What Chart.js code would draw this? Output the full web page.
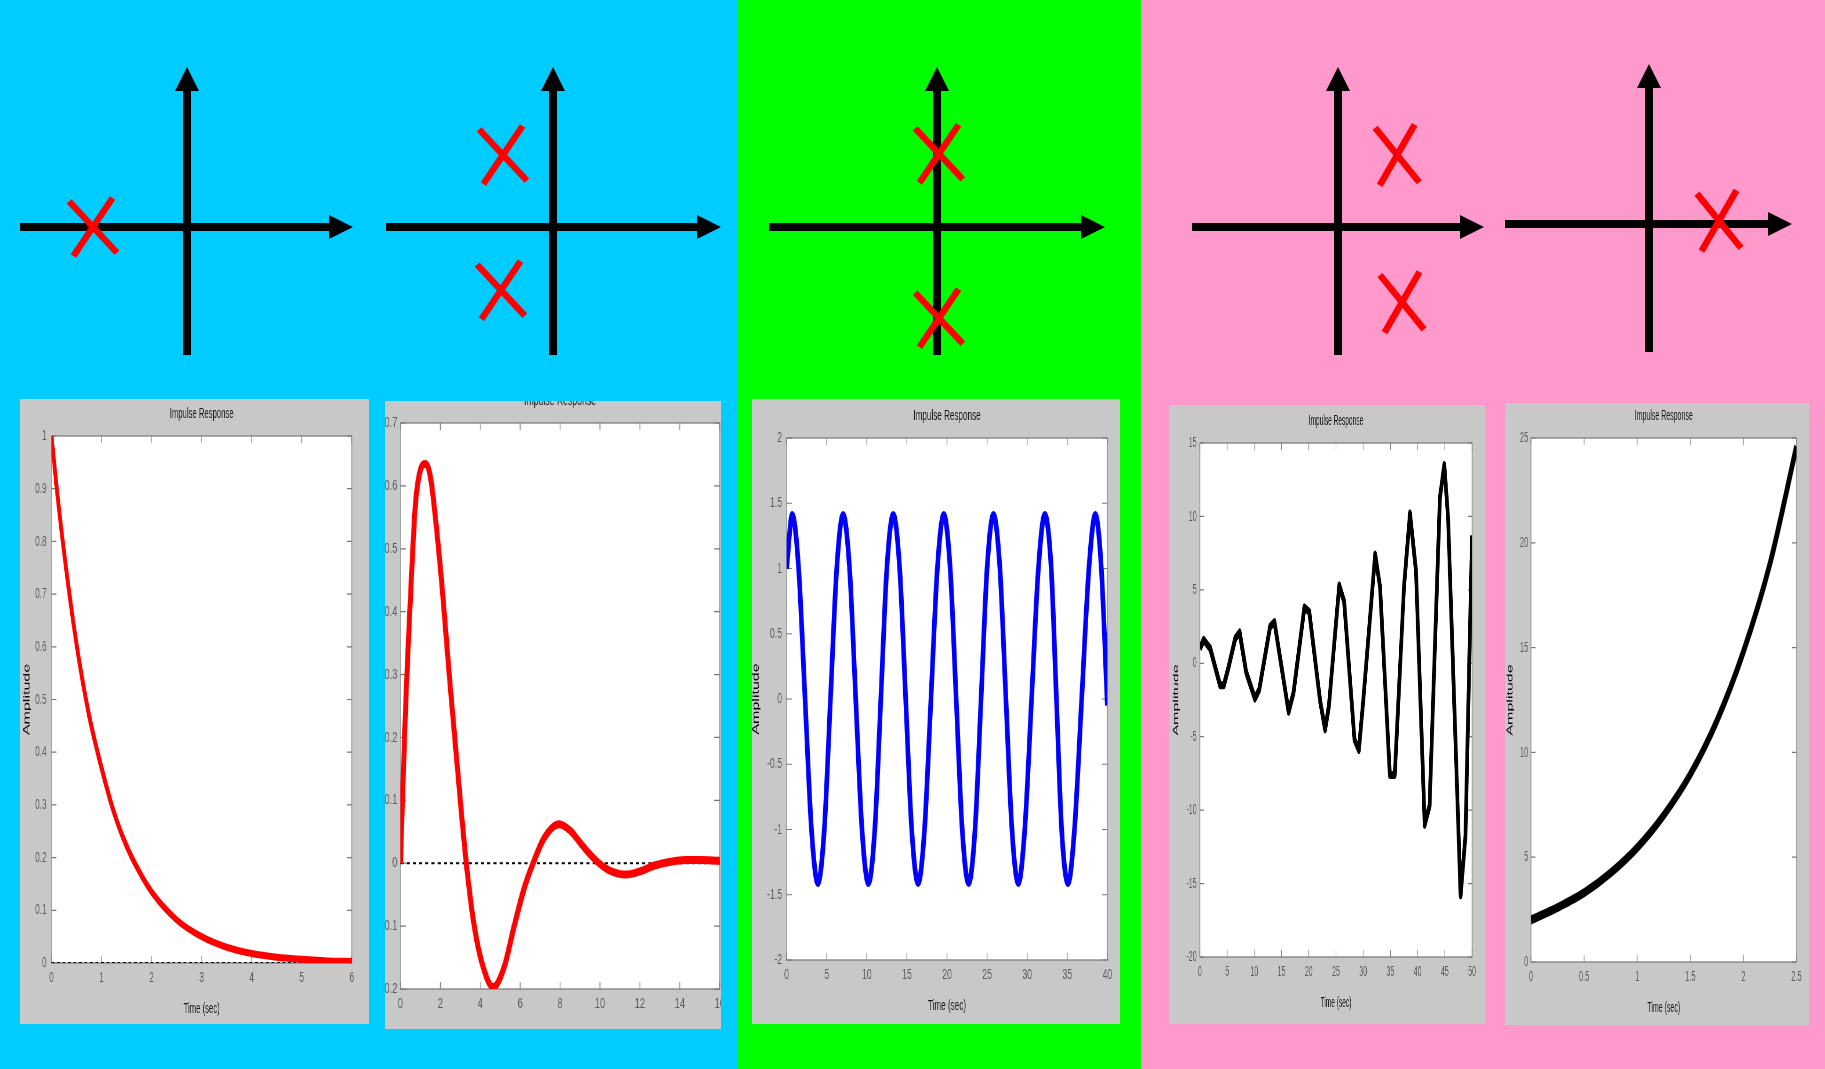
<!DOCTYPE html>
<html>
<head>
<meta charset="utf-8">
<title>Pole locations and impulse responses</title>
<script src="https://cdn.jsdelivr.net/npm/chart.js@4.4.1/dist/chart.umd.min.js"></script>
<style>
  body { margin: 0; }
  #stage { position: relative; width: 1825px; height: 1069px; overflow: hidden; }
  .band, .plane, .frame, .squash { position: absolute; }
  .band { top: 0; height: 1069px; }
  .frame { background: #c8c8c8; overflow: hidden; }
  .squash { transform-origin: 0 0; }
</style>
</head>
<body>
<div id="stage">
  <div class="band" style="left:0;width:737px;background:#00ccff"></div>
  <div class="band" style="left:737px;width:404px;background:#00ff00"></div>
  <div class="band" style="left:1141px;width:684px;background:#ff99cc"></div>
</div>
<script>
// s-plane poles, [real, imag]
const poles1 = [[-2.35, 0]];
const poles2 = [[-1.25, 1.8], [-1.3, -1.58]];
const poles3 = [[0.05, 1.83], [0.05, -2.28]];
const poles4 = [[1.48, 1.8], [1.6, -1.88]];
const poles5 = [[1.75, 0.08]];

// impulse responses (time in sec, amplitude)
const times1 = [0, 0.1, 0.25, 0.5, 0.75, 1, 1.25, 1.5, 1.75, 2, 2.5, 3, 3.5, 4, 4.5, 5, 5.5, 6];
const amp1 = [1.0, 0.905, 0.78, 0.605, 0.47, 0.37, 0.285, 0.222, 0.174, 0.135, 0.082, 0.05, 0.03, 0.018, 0.011, 0.007, 0.004, 0.003];

const times2 = [0, 0.25, 0.5, 0.75, 1, 1.25, 1.5, 2, 2.5, 3, 3.3, 3.7, 4.1, 4.65, 5.2, 5.7, 6.2, 6.65, 7.2, 7.95, 8.5, 9, 9.5, 9.95, 10.5, 11.3, 12, 12.7, 13.5, 14.3, 15, 16];
const amp2 = [0, 0.24, 0.42, 0.57, 0.625, 0.635, 0.615, 0.47, 0.28, 0.1, 0, -0.1, -0.16, -0.197, -0.165, -0.1, -0.04, 0, 0.04, 0.062, 0.052, 0.033, 0.014, 0, -0.012, -0.018, -0.013, -0.004, 0.002, 0.005, 0.005, 0.004];

const times3 = [0, 0.7, 1.5, 2.3, 3.1, 3.9, 4.7, 5.47, 6.25, 7.05, 7.85, 8.62, 9.4, 10.2, 11.0, 11.75, 12.5, 13.3, 14.1, 14.85, 15.6, 16.4, 17.2, 18.0, 18.8, 19.6, 20.4, 21.15, 21.9, 22.7, 23.5, 24.25, 25.0, 25.8, 26.6, 27.35, 28.1, 28.9, 29.7, 30.55, 31.4, 32.2, 33.0, 33.65, 34.3, 35.1, 35.9, 36.8, 37.7, 38.5, 39.25, 40];
const amp3 = [1.0, 1.41, 1.0, 0, -1.0, -1.41, -1.0, 0, 1.0, 1.41, 1.0, 0, -1.0, -1.41, -1.0, 0, 1.0, 1.41, 1.0, 0, -1.0, -1.41, -1.0, 0, 1.0, 1.41, 1.0, 0, -1.0, -1.41, -1.0, 0, 1.0, 1.41, 1.0, 0, -1.0, -1.41, -1.0, 0, 1.0, 1.41, 1.0, 0, -1.0, -1.41, -1.0, 0, 1.0, 1.41, 1.0, -0.05];

const times4 = [0, 0.7, 1.9, 3.7, 4.4, 5.3, 6.5, 7.3, 8.5, 10.1, 10.9, 12.9, 13.7, 14.8, 16.3, 17.2, 19.2, 20.1, 22.1, 23.0, 23.7, 25.6, 26.5, 28.4, 29.2, 30.0, 32.2, 33.1, 34.9, 35.8, 37.5, 38.6, 39.7, 41.3, 42.2, 44.1, 44.9, 45.6, 47.9, 48.8, 50];
const amp4 = [1.0, 1.6, 1.0, -1.5, -1.5, -0.2, 1.7, 2.1, -0.6, -2.4, -1.8, 2.5, 2.8, 0.2, -3.3, -2.0, 3.8, 3.5, -2.6, -4.5, -2.9, 5.3, 4.2, -5.2, -5.9, -2.6, 7.4, 5.2, -7.6, -7.6, 5.2, 10.2, 6.3, -11.0, -9.7, 11.3, 13.5, 9.9, -15.8, -11.7, 8.7];

const times5 = [0, 0.25, 0.5, 0.75, 1, 1.25, 1.5, 1.75, 2, 2.25, 2.5];
const amp5 = [2.0, 2.6, 3.3, 4.25, 5.45, 7.0, 8.95, 11.5, 14.8, 19.0, 24.6];

// tick values
const ticksX1 = [0, 1, 2, 3, 4, 5, 6];
const ticksY1 = [0, 0.1, 0.2, 0.3, 0.4, 0.5, 0.6, 0.7, 0.8, 0.9, 1];
const ticksX2 = [0, 2, 4, 6, 8, 10, 12, 14, 16];
const ticksY2 = [-0.2, -0.1, 0, 0.1, 0.2, 0.3, 0.4, 0.5, 0.6, 0.7];
const ticksX3 = [0, 5, 10, 15, 20, 25, 30, 35, 40];
const ticksY3 = [-2, -1.5, -1, -0.5, 0, 0.5, 1, 1.5, 2];
const ticksX4 = [0, 5, 10, 15, 20, 25, 30, 35, 40, 45, 50];
const ticksY4 = [-20, -15, -10, -5, 0, 5, 10, 15];
const ticksX5 = [0, 0.5, 1, 1.5, 2, 2.5];
const ticksY5 = [0, 5, 10, 15, 20, 25];

const FONT = '"Liberation Sans", Arial, sans-serif';
const stage = document.getElementById('stage');

function box(cls, l, t, w, h, parent) {
  const d = document.createElement('div');
  d.className = cls;
  Object.assign(d.style, { left: l + 'px', top: t + 'px', width: w + 'px', height: h + 'px' });
  (parent || stage).appendChild(d);
  return d;
}

// ---------- pole diagrams ----------
const PAD = 16;

const axisArrows = {
  id: 'axisArrows',
  beforeDatasetsDraw(chart) {
    const { ctx, chartArea: a, scales: { x, y } } = chart;
    const x0 = x.getPixelForValue(0), y0 = y.getPixelForValue(0);
    const head = 24, half = 12;
    ctx.save();
    ctx.strokeStyle = ctx.fillStyle = '#000';
    ctx.lineWidth = 8;
    ctx.beginPath();
    ctx.moveTo(a.left, y0); ctx.lineTo(a.right - head + 1, y0);
    ctx.moveTo(x0, a.bottom); ctx.lineTo(x0, a.top + head - 1);
    ctx.stroke();
    ctx.beginPath();
    ctx.moveTo(a.right, y0); ctx.lineTo(a.right - head, y0 - half); ctx.lineTo(a.right - head, y0 + half); ctx.closePath();
    ctx.moveTo(x0, a.top); ctx.lineTo(x0 - half, a.top + head); ctx.lineTo(x0 + half, a.top + head); ctx.closePath();
    ctx.fill();
    ctx.restore();
  }
};

const planes = [
  { poles: poles1, area: [20, 67, 353, 355], x: [-4.175, 4.15], y: [-3.2, 4.0], rot: [47, 124] },
  { poles: poles2, area: [386, 67, 721, 355], x: [-4.175, 4.2], y: [-3.2, 4.0], rot: [47, 124] },
  { poles: poles3, area: [769, 67, 1105, 355], x: [-4.2, 4.2], y: [-3.2, 4.0], rot: [47, 124] },
  { poles: poles4, area: [1192, 67, 1484, 355], x: [-3.65, 3.65], y: [-3.2, 4.0], rot: [51, 120] },
  { poles: poles5, area: [1505, 64, 1792, 352], x: [-3.6, 3.575], y: [-3.2, 4.0], rot: [51, 120] }
];

planes.forEach(p => {
  const [l, t, r, b] = p.area;
  const holder = box('plane', l - PAD, t - PAD, r - l + 2 * PAD, b - t + 2 * PAD);
  const canvas = document.createElement('canvas');
  canvas.width = r - l + 2 * PAD;
  canvas.height = b - t + 2 * PAD;
  holder.appendChild(canvas);
  new Chart(canvas, {
    type: 'scatter',
    data: {
      datasets: p.rot.map(angle => ({
        data: p.poles.map(([re, im]) => ({ x: re, y: im })),
        pointStyle: 'line',
        pointRotation: angle,
        pointRadius: 35,
        pointBorderWidth: 6.5,
        pointBorderColor: '#ff0000',
        pointBackgroundColor: '#ff0000',
        clip: false
      }))
    },
    options: {
      responsive: false,
      animation: false,
      events: [],
      layout: { padding: PAD, autoPadding: false },
      plugins: { legend: { display: false }, tooltip: { enabled: false } },
      scales: {
        x: { type: 'linear', display: false, min: p.x[0], max: p.x[1] },
        y: { type: 'linear', display: false, min: p.y[0], max: p.y[1] }
      }
    },
    plugins: [axisArrows]
  });
});

// ---------- impulse response figures ----------
const LM = 70, TM = 40, RM = 24, BM = 70;

// white axes with a box and inward tick marks on all four sides
const axesBox = {
  id: 'axesBox',
  beforeDatasetsDraw(chart) {
    const { ctx, chartArea: a, scales: { x, y } } = chart;
    ctx.save();
    ctx.fillStyle = '#fff';
    ctx.fillRect(a.left, a.top, a.right - a.left, a.bottom - a.top);
    ctx.strokeStyle = '#777';
    ctx.lineWidth = 1.2;
    ctx.strokeRect(a.left, a.top, a.right - a.left, a.bottom - a.top);
    ctx.beginPath();
    x.ticks.forEach(tk => {
      const px = x.getPixelForValue(tk.value);
      ctx.moveTo(px, a.bottom); ctx.lineTo(px, a.bottom - 7);
      ctx.moveTo(px, a.top); ctx.lineTo(px, a.top + 7);
    });
    y.ticks.forEach(tk => {
      const py = y.getPixelForValue(tk.value);
      ctx.moveTo(a.left, py); ctx.lineTo(a.left + 9, py);
      ctx.moveTo(a.right, py); ctx.lineTo(a.right - 9, py);
    });
    ctx.stroke();
    ctx.restore();
  }
};

const responses = [
  { t: times1, v: amp1, color: '#ff0000', width: 7, interp: 'monotone', xt: ticksX1, yt: ticksY1, zero: true, xTitle: true,
    frame: [20, 399, 349, 625], plot: [51, 436, 351.5, 962.5], sx: 0.55, yPad: 9, yTitle: 44 },
  { t: times2, v: amp2, color: '#ff0000', width: 8, interp: 'monotone', xt: ticksX2, yt: ticksY2, zero: true, xTitle: false,
    frame: [385, 401, 336, 628], plot: [400, 422.7, 719.5, 989], sx: 0.62, yPad: 5, yTitle: 46 },
  { t: times3, v: amp3, color: '#0000ff', width: 8, interp: 'monotone', xt: ticksX3, yt: ticksY3, zero: false, xTitle: true,
    frame: [752, 399, 368, 625], plot: [786.5, 438, 1107.3, 960.2], sx: 0.58, yPad: 8, yTitle: 52 },
  { t: times4, v: amp4, color: '#000000', width: 8, interp: null, xt: ticksX4, yt: ticksY4, zero: false, xTitle: true,
    frame: [1169, 405, 316, 619], plot: [1200, 442.8, 1472.3, 957], sx: 0.47, yPad: 7, yTitle: 50 },
  { t: times5, v: amp5, color: '#000000', width: 9, interp: 'monotone', xt: ticksX5, yt: ticksY5, zero: false, xTitle: true,
    frame: [1505, 403, 304, 622], plot: [1531, 438, 1796.7, 962.3], sx: 0.5, yPad: 5.5, yTitle: 41 }
];

responses.forEach(r => {
  const [fl, ft, fw, fh] = r.frame;
  const [pl, pt, pr, pb] = r.plot;
  const frame = box('frame', fl, ft, fw, fh);
  const cw = Math.round(LM + (pr - pl) / r.sx + RM);
  const ch = Math.round(TM + (pb - pt) + BM);
  const wrap = box('squash', pl - fl - LM * r.sx, pt - ft - TM, cw, ch, frame);
  wrap.style.transform = 'scaleX(' + r.sx + ')';
  const canvas = document.createElement('canvas');
  canvas.width = cw;
  canvas.height = ch;
  wrap.appendChild(canvas);

  const xMin = r.xt[0], xMax = r.xt[r.xt.length - 1];
  const datasets = [{
    data: r.t.map((t, i) => ({ x: t, y: r.v[i] })),
    borderColor: r.color,
    borderWidth: r.width,
    pointRadius: 0,
    cubicInterpolationMode: r.interp || 'default',
    tension: 0,
    borderJoinStyle: 'round'
  }];
  if (r.zero) {
    datasets.push({
      data: [{ x: xMin, y: 0 }, { x: xMax, y: 0 }],
      borderColor: '#000',
      borderWidth: 2,
      borderDash: [5, 5],
      pointRadius: 0
    });
  }

  const tickFont = { family: FONT, size: 15 };
  new Chart(canvas, {
    type: 'line',
    data: { datasets },
    options: {
      responsive: false,
      animation: false,
      events: [],
      layout: { padding: { left: 0, top: 0, right: RM, bottom: 0 }, autoPadding: false },
      plugins: {
        legend: { display: false },
        tooltip: { enabled: false },
        title: {
          display: true, fullSize: false, text: 'Impulse Response', color: '#1a1a1a',
          font: { family: FONT, size: 14, weight: 'normal' },
          padding: { top: TM - 21.5 - 8.4, bottom: 21.5 - 8.4 }
        }
      },
      scales: {
        x: {
          type: 'linear', min: xMin, max: xMax,
          grid: { display: false, drawTicks: false }, border: { display: false },
          ticks: { color: '#5c5c5c', font: tickFont, padding: 6, autoSkip: false, maxRotation: 0, callback: v => String(v) },
          afterBuildTicks: s => { s.ticks = r.xt.map(v => ({ value: v })); },
          afterFit: s => { s.height = BM; },
          title: { display: r.xTitle, text: 'Time (sec)', color: '#1a1a1a', font: { family: FONT, size: 14 },
                   padding: { top: 0, bottom: BM - 46 - 8.4 } }
        },
        y: {
          type: 'linear', min: r.yt[0], max: r.yt[r.yt.length - 1],
          grid: { display: false, drawTicks: false }, border: { display: false },
          ticks: { color: '#5c5c5c', font: tickFont, padding: r.yPad, autoSkip: false, callback: v => String(v) },
          afterBuildTicks: s => { s.ticks = r.yt.map(v => ({ value: v })); },
          afterFit: s => { s.width = LM; },
          title: { display: true, text: 'Amplitude', color: '#000', font: { family: FONT, size: 16 },
                   padding: { top: LM - r.yTitle - 9.6, bottom: 0 } }
        }
      }
    },
    plugins: [axesBox]
  });
});
</script>
</body>
</html>
